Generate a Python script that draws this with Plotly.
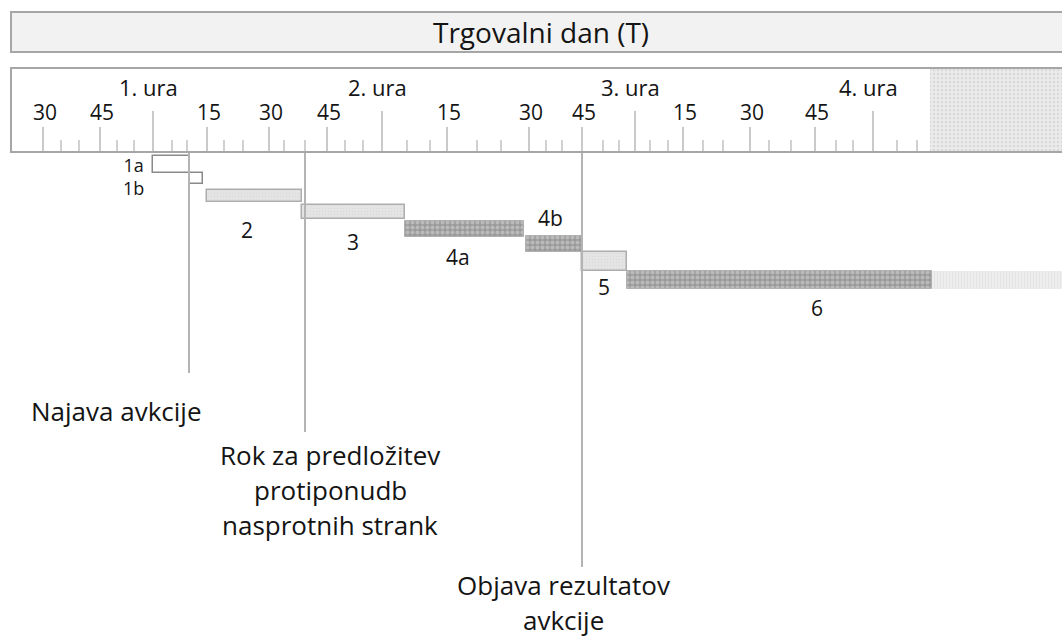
import plotly.graph_objects as go

# ---------------- data (positions, in pixel-like units) ----------------
title_text = "Trgovalni dan (T)"

hour_pos = [153, 382, 635, 873]
hour_labels = ["1. ura", "2. ura", "3. ura", "4. ura"]

minute_pos = [43, 100, 207, 269, 327, 447, 529, 582, 683, 750, 815]
minute_labels = ["30", "45", "15", "30", "45", "15", "30", "45", "15", "30", "45"]

small_pos = [61, 79, 117, 134, 172, 187, 224, 243, 284, 305, 345, 363, 407, 430,
             477, 501, 546, 562, 603, 619, 650, 668, 703, 723, 769, 791, 836, 853,
             897, 917]

day_end = 930
view_end = 1062

bar_names = ["1a", "1b", "2", "3", "4a", "4b", "5", "6"]
bar_start = [153, 190, 207, 302, 405, 526, 582, 627]
bar_end = [190, 203, 302, 405, 524, 582, 627, 932]
bar_top = [156, 173, 190, 205, 221, 236, 252, 271]
bar_bottom = [173, 184, 202, 219, 237, 252, 271, 289]
bar_kind = ["open", "open", "light", "light", "dark", "dark", "light", "dark"]
label_x = [133, 133, 247, 353, 458, 550, 604, 817]
label_y = [165, 187, 230, 242, 257, 218, 287, 308]

milestone_x = [189, 305, 582]
milestone_end = [373, 432, 567]
milestone_text = [["Najava avkcije"],
                  ["Rok za predložitev", "protiponudb", "nasprotnih strank"],
                  ["Objava rezultatov", "avkcije"]]
milestone_text_x = [116, 330, 563]
milestone_text_y = [411, 455, 585]

# ---------------- styling ----------------
FONT = "Open Sans"
TXT = "#141414"
GRID = "#bdbdbd"
FRAME = "#a6a6a6"
HEADER_TOP, HEADER_BOT = 12, 52
RULER_TOP, RULER_BOT = 68, 152
HOUR_TOP, MIN_TOP, SMALL_TOP = 111, 127, 140
LINE_H = 35

fig = go.Figure()

# hatched area after end of trading day inside the ruler
fig.add_trace(go.Bar(
    orientation="h", base=[day_end], x=[view_end + 20 - day_end],
    y=[(RULER_TOP + RULER_BOT) / 2], width=[RULER_BOT - RULER_TOP],
    marker=dict(color="#e4e4e4", line=dict(width=0),
                pattern=dict(shape=".", size=4, solidity=0.45,
                             fgcolor="#c8c8c8", bgcolor="#ededed")),
    hoverinfo="skip", showlegend=False))


def vlines(xs, tops, bottoms, color, width):
    X, Y = [], []
    for p, t, b in zip(xs, tops, bottoms):
        X += [p, p, None]
        Y += [t, b, None]
    return go.Scatter(x=X, y=Y, mode="lines", line=dict(color=color, width=width),
                      hoverinfo="skip", showlegend=False)


# ruler ticks
fig.add_trace(vlines(hour_pos, [HOUR_TOP] * len(hour_pos), [RULER_BOT] * len(hour_pos), GRID, 1.6))
fig.add_trace(vlines(minute_pos, [MIN_TOP] * len(minute_pos), [RULER_BOT] * len(minute_pos), GRID, 1.6))
fig.add_trace(vlines(small_pos, [SMALL_TOP] * len(small_pos), [RULER_BOT] * len(small_pos), GRID, 1.4))

# milestone vertical lines
fig.add_trace(vlines(milestone_x, [RULER_BOT] * len(milestone_x), milestone_end, "#b4b4b4", 2))

# bars
styles = {
    "open": dict(color="#ffffff", line=dict(color="#8a8a8a", width=1.5)),
    "light": dict(color="#e2e2e2", line=dict(color="#adadad", width=1.5),
                  pattern=dict(shape=".", size=3, solidity=0.25,
                               fgcolor="#d2d2d2", bgcolor="#e4e4e4")),
    "dark": dict(color="#a4a4a4", line=dict(color="#b0b0b0", width=1),
                 pattern=dict(shape=".", size=5, solidity=0.5,
                              fgcolor="#dadada", bgcolor="#9a9a9a")),
}
for kind in ["open", "light", "dark"]:
    idx = [i for i, k in enumerate(bar_kind) if k == kind]
    fig.add_trace(go.Bar(
        orientation="h",
        base=[bar_start[i] for i in idx],
        x=[bar_end[i] - bar_start[i] for i in idx],
        y=[(bar_top[i] + bar_bottom[i]) / 2 for i in idx],
        width=[bar_bottom[i] - bar_top[i] for i in idx],
        marker=styles[kind], hoverinfo="skip", showlegend=False))

# continuation of phase 6 past end of day
i6 = bar_names.index("6")
fig.add_trace(go.Bar(
    orientation="h", base=[bar_end[i6]], x=[view_end + 20 - bar_end[i6]],
    y=[(bar_top[i6] + bar_bottom[i6]) / 2], width=[bar_bottom[i6] - bar_top[i6]],
    marker=dict(color="#e6e6e6", line=dict(width=0),
                pattern=dict(shape="|", size=3, solidity=0.3,
                             fgcolor="#dcdcdc", bgcolor="#ededed")),
    hoverinfo="skip", showlegend=False))

# frames
fig.add_shape(type="rect", xref="x", yref="y", x0=11, x1=view_end + 10,
              y0=HEADER_TOP, y1=HEADER_BOT, fillcolor="#f2f2f2",
              line=dict(color=FRAME, width=2), layer="below")
fig.add_shape(type="rect", xref="x", yref="y", x0=11, x1=view_end + 10,
              y0=RULER_TOP, y1=RULER_BOT, fillcolor="rgba(0,0,0,0)",
              line=dict(color=FRAME, width=2), layer="above")

ann = []
ann.append(dict(x=541, y=(HEADER_TOP + HEADER_BOT) / 2, text=title_text,
                font=dict(size=28, color=TXT, family=FONT)))
for p, t in zip(hour_pos, hour_labels):
    ann.append(dict(x=p, y=87, text=t, xshift=-5, font=dict(size=22, color=TXT, family=FONT)))
for p, t in zip(minute_pos, minute_labels):
    ann.append(dict(x=p, y=112, text=t, xshift=2, font=dict(size=21, color=TXT, family=FONT)))

# bar labels: 1a and 1b are stacked tightly, so draw them as one two-line label
i1a, i1b = bar_names.index("1a"), bar_names.index("1b")
ann.append(dict(x=label_x[i1a], y=(label_y[i1a] + label_y[i1b]) / 2,
                text=bar_names[i1a] + "<br>" + bar_names[i1b],
                font=dict(size=18, color=TXT, family=FONT)))
for i, (lx, ly, t) in enumerate(zip(label_x, label_y, bar_names)):
    if i in (i1a, i1b):
        continue
    ann.append(dict(x=lx, y=ly, text=t, font=dict(size=21, color=TXT, family=FONT)))
for tx, ty, lines in zip(milestone_text_x, milestone_text_y, milestone_text):
    for k, line in enumerate(lines):
        ann.append(dict(x=tx, y=ty + k * LINE_H, text=line,
                        font=dict(size=26, color=TXT, family=FONT)))
for a in ann:
    a.update(xref="x", yref="y", showarrow=False, xanchor="center", yanchor="middle")

fig.update_layout(
    width=1062, height=637,
    margin=dict(l=0, r=0, t=0, b=0),
    paper_bgcolor="white", plot_bgcolor="white",
    barmode="overlay", bargap=0,
    annotations=ann,
    xaxis=dict(range=[0, view_end], visible=False, fixedrange=True),
    yaxis=dict(range=[637, 0], visible=False, fixedrange=True),
)

fig.write_html("out.html", config={"displayModeBar": False},
               post_script="document.body.style.margin='0';document.body.style.overflow='hidden';")
